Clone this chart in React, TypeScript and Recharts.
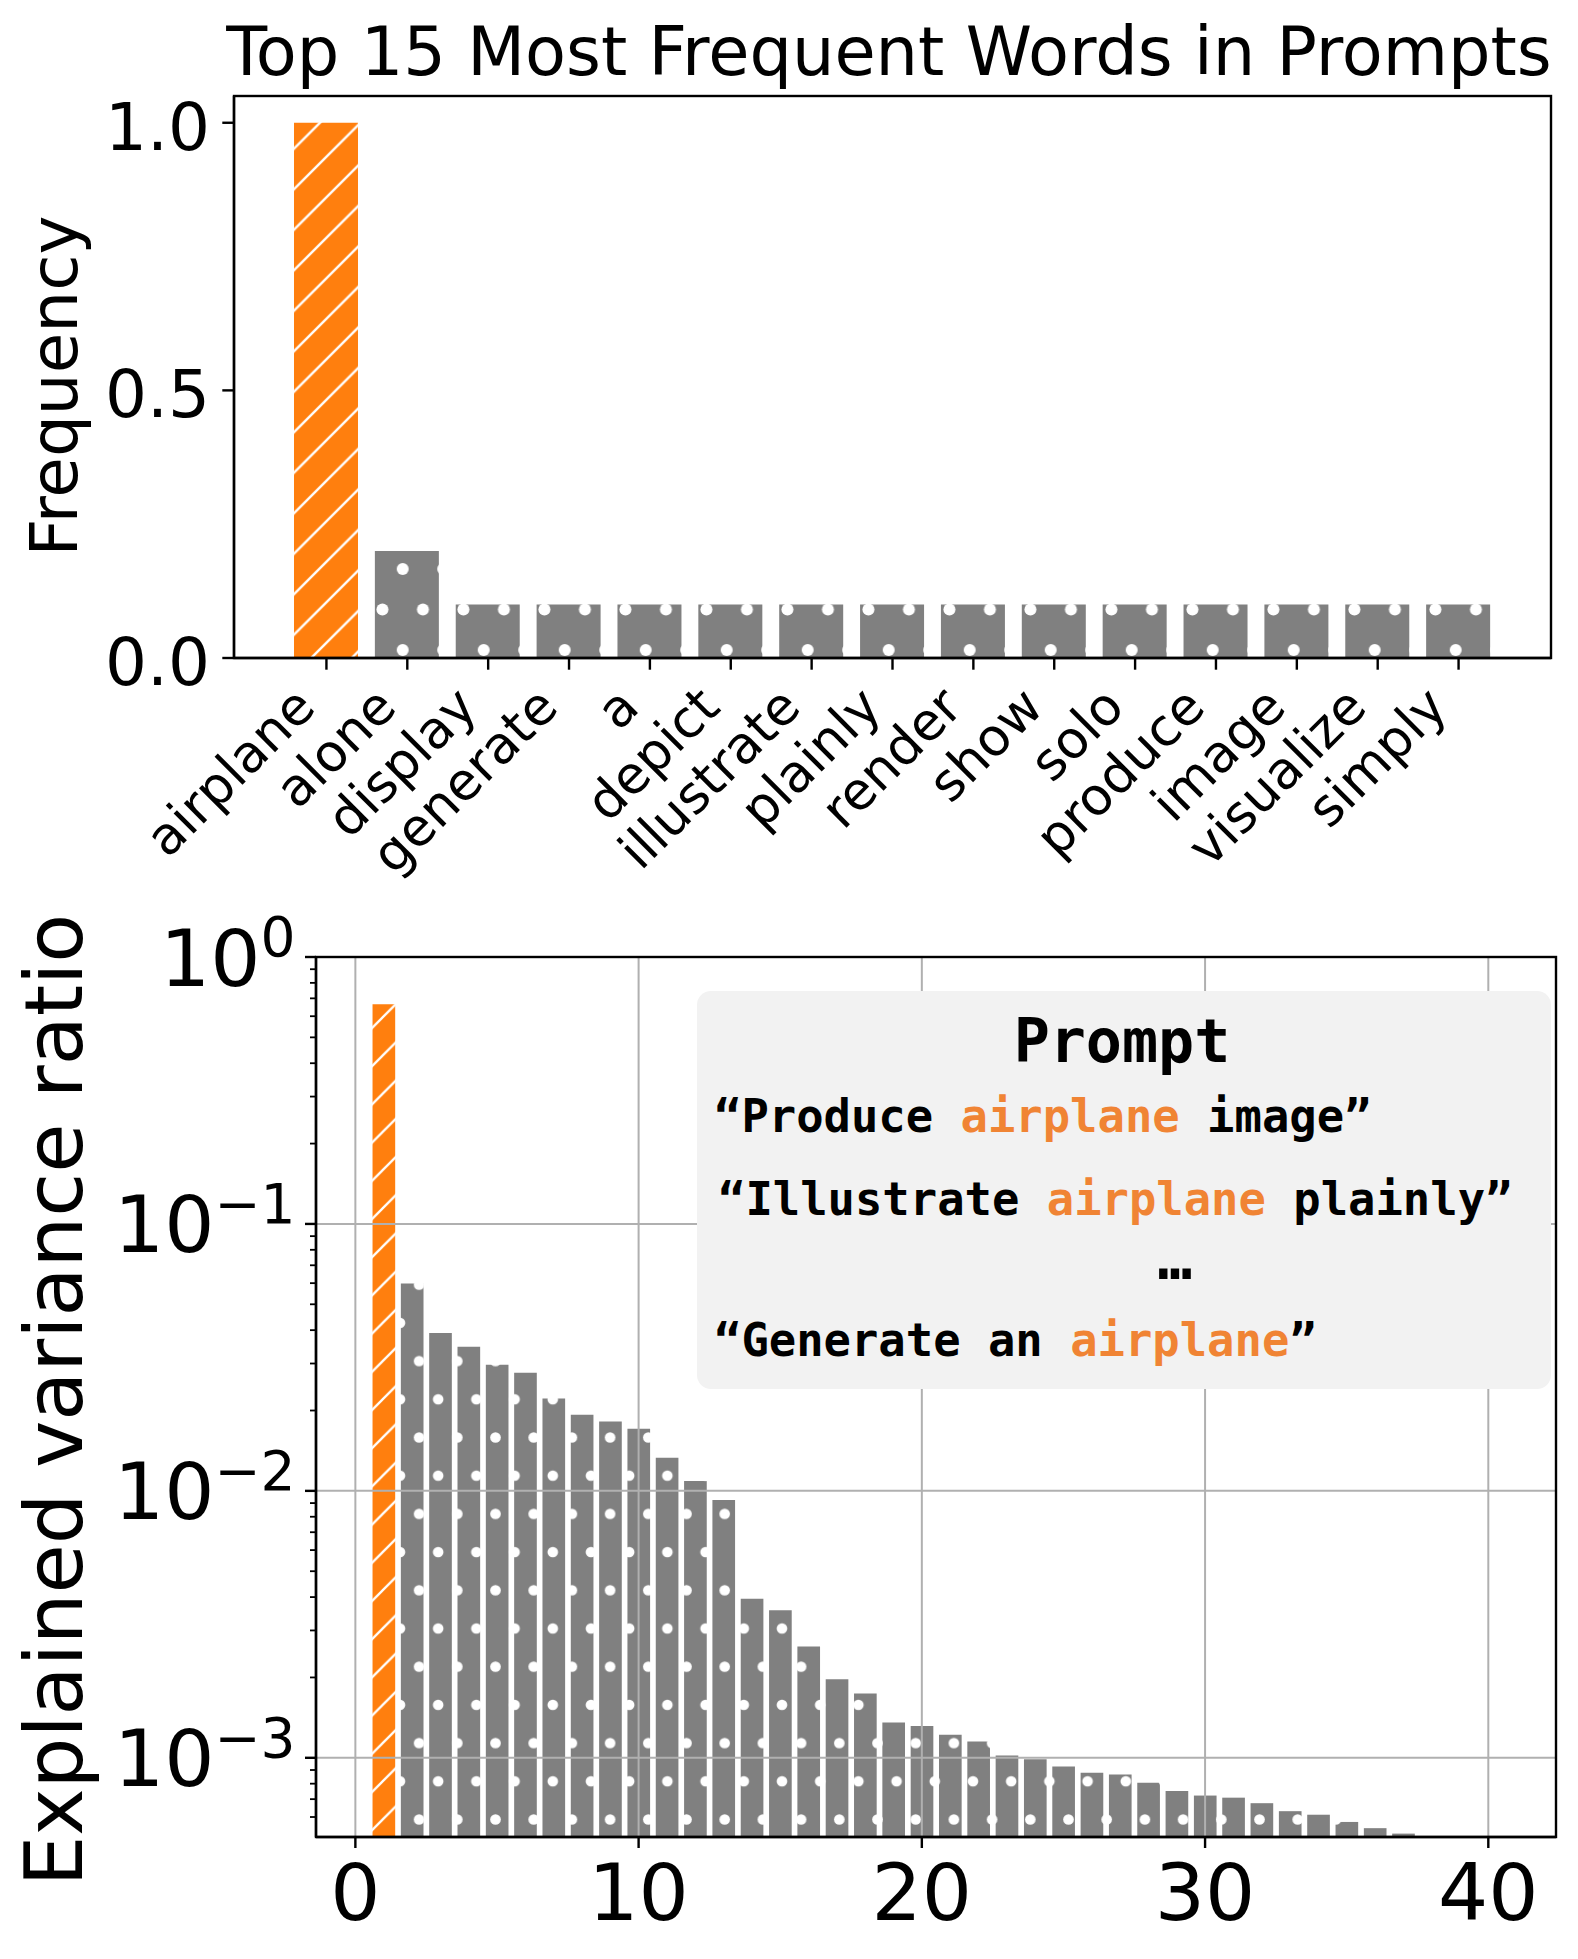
import React from "react";
import { BarChart, Bar, Cell, XAxis, YAxis, CartesianGrid } from "recharts";

// top panel: normalised word frequencies
const words = [
  "airplane", "alone", "display", "generate", "a", "depict", "illustrate",
  "plainly", "render", "show", "solo", "produce", "image", "visualize", "simply",
];
const freqs = [1.0, 0.2, 0.1, 0.1, 0.1, 0.1, 0.1, 0.1, 0.1, 0.1, 0.1, 0.1, 0.1, 0.1, 0.1];
const freqTicks = [0, 0.5, 1.0];

// bottom panel: explained variance ratio per component
const components = [
  1, 2, 3, 4, 5, 6, 7, 8, 9, 10, 11, 12, 13, 14, 15, 16, 17, 18, 19,
  20, 21, 22, 23, 24, 25, 26, 27, 28, 29, 30, 31, 32, 33, 34, 35, 36, 37,
];
const ratios = [
  0.665, 0.0598, 0.039, 0.0347, 0.0297, 0.0277, 0.0222, 0.0193, 0.0182, 0.0171,
  0.0133, 0.0109, 0.00924, 0.00394, 0.00357, 0.00261, 0.00197, 0.00174, 0.001355,
  0.001315, 0.00122, 0.00115, 0.00102, 0.000988, 0.000927, 0.000879, 0.000865,
  0.000806, 0.000751, 0.000722, 0.000709, 0.000676, 0.000631, 0.000612, 0.000575,
  0.000545, 0.00052,
];
const pcTicks = [0, 10, 20, 30, 40];
const majorTicks = [1, 0.1, 0.01, 0.001];
const minorTicks = [
  0.9, 0.8, 0.7, 0.6, 0.5, 0.4, 0.3, 0.2,
  0.09, 0.08, 0.07, 0.06, 0.05, 0.04, 0.03, 0.02,
  0.009, 0.008, 0.007, 0.006, 0.005, 0.004, 0.003, 0.002,
  0.0009, 0.0008, 0.0007, 0.0006,
];
const exponents: Record<string, string> = { "1": "0", "0.1": "−1", "0.01": "−2", "0.001": "−3" };

const freqData = words.map((w, i) => ({ word: w, freq: freqs[i] }));
const pcaData = components.map((c, i) => ({ pc: c, ratio: ratios[i] }));

const ORANGE = "#ff7f0e";
const GRAY = "#808080";
const TEXT_ORANGE = "#f08434";
const FONT = "DejaVu Sans";
const MONO = "DejaVu Sans Mono";
const SPINE = 2.4;

const TOP_AXIS_X = 234;
const TOP_AXIS_Y = 658;
const BOT_AXIS_X = 316;
const BOT_AXIS_Y = 937;

function Patterns() {
  const t = 40.5;
  const b = 38.2;
  return (
    <svg width={0} height={0} style={{ position: "absolute" }}>
      <defs>
        <pattern id="topDots" patternUnits="userSpaceOnUse" x={402.7} y={569} width={t} height={t * 2}>
          <rect width={t} height={t * 2} fill={GRAY} />
          {[[0, 0], [t, 0], [0, 2 * t], [t, 2 * t], [t / 2, t]].map(([cx, cy], i) => (
            <circle key={i} cx={cx} cy={cy} r={6} fill="#fff" />
          ))}
        </pattern>
        <pattern id="topHatch" patternUnits="userSpaceOnUse" x={0} y={37.7} width={t} height={t}>
          <rect width={t} height={t} fill={ORANGE} />
          <path
            d={`M0,${t} L${t},0 M-10,10 L10,-10 M${t - 10},${t + 10} L${t + 10},${t - 10}`}
            stroke="#fff"
            strokeWidth={2.4}
          />
        </pattern>
        <pattern id="botDots" patternUnits="userSpaceOnUse" x={400} y={575.7} width={b} height={b * 2}>
          <rect width={b} height={b * 2} fill={GRAY} />
          {[[0, 0], [b, 0], [0, 2 * b], [b, 2 * b], [b / 2, b]].map(([cx, cy], i) => (
            <circle key={i} cx={cx} cy={cy} r={5.3} fill="#fff" />
          ))}
        </pattern>
        <pattern id="botHatch" patternUnits="userSpaceOnUse" x={0} y={3.4} width={b} height={b}>
          <rect width={b} height={b} fill={ORANGE} />
          <path
            d={`M0,${b} L${b},0 M-10,10 L10,-10 M${b - 10},${b + 10} L${b + 10},${b - 10}`}
            stroke="#fff"
            strokeWidth={2.3}
          />
        </pattern>
      </defs>
    </svg>
  );
}

function WordTick({ x, payload }: any) {
  const bx = x - 8.7;
  const by = 709.6;
  return (
    <g>
      <line x1={x} x2={x} y1={TOP_AXIS_Y} y2={TOP_AXIS_Y + 11.7} stroke="#000" strokeWidth={SPINE} />
      <text
        x={bx}
        y={by}
        transform={`rotate(-45, ${bx}, ${by})`}
        textAnchor="end"
        fontFamily={FONT}
        fontSize={52}
        fill="#000"
      >
        {payload.value}
      </text>
    </g>
  );
}

function FreqTick({ y, payload }: any) {
  return (
    <g>
      <line x1={TOP_AXIS_X - 11.7} x2={TOP_AXIS_X} y1={y} y2={y} stroke="#000" strokeWidth={SPINE} />
      <text x={210} y={y + 27} textAnchor="end" fontFamily={FONT} fontSize={66} fill="#000">
        {Number(payload.value).toFixed(1)}
      </text>
    </g>
  );
}

function PcTick({ x, payload }: any) {
  return (
    <g>
      <line x1={x} x2={x} y1={BOT_AXIS_Y} y2={BOT_AXIS_Y + 11} stroke="#000" strokeWidth={SPINE} />
      <text x={x} y={BOT_AXIS_Y + 83} textAnchor="middle" fontFamily={FONT} fontSize={79} fill="#000">
        {payload.value}
      </text>
    </g>
  );
}

function LogTick({ y, payload }: any) {
  const exp = exponents[String(payload.value)];
  if (exp === undefined) {
    return <line x1={BOT_AXIS_X - 6} x2={BOT_AXIS_X} y1={y} y2={y} stroke="#000" strokeWidth={1.8} />;
  }
  return (
    <g>
      <line x1={BOT_AXIS_X - 11} x2={BOT_AXIS_X} y1={y} y2={y} stroke="#000" strokeWidth={SPINE} />
      <text x={295.5} y={y + 28.5} textAnchor="end" fontFamily={FONT} fontSize={79} fill="#000">
        10
        <tspan fontSize={55} dy={-29.3}>
          {exp}
        </tspan>
      </text>
    </g>
  );
}

function FrequencyChart() {
  return (
    <BarChart width={1578} height={900} data={freqData} margin={{ top: 96, right: 27, left: 0, bottom: 0 }}>
      <Bar dataKey="freq" barSize={64} isAnimationActive={false}>
        {freqData.map((d, i) => (
          <Cell key={d.word} fill={i === 0 ? "url(#topHatch)" : "url(#topDots)"} />
        ))}
      </Bar>
      <XAxis
        dataKey="word"
        height={242}
        padding={{ left: 52, right: 52 }}
        interval={0}
        tickLine={false}
        tick={<WordTick />}
        axisLine={{ stroke: "#000", strokeWidth: SPINE }}
      />
      <YAxis
        width={TOP_AXIS_X}
        domain={[0, 1.05]}
        ticks={freqTicks}
        interval={0}
        allowDataOverflow
        tickLine={false}
        tick={<FreqTick />}
        axisLine={{ stroke: "#000", strokeWidth: SPINE }}
      />
    </BarChart>
  );
}

function VarianceChart() {
  return (
    <BarChart width={1578} height={1059} data={pcaData} margin={{ top: 57, right: 22, left: 0, bottom: 0 }}>
      <Bar dataKey="ratio" barSize={22.66} isAnimationActive={false}>
        {pcaData.map((d, i) => (
          <Cell key={d.pc} fill={i === 0 ? "url(#botHatch)" : "url(#botDots)"} />
        ))}
      </Bar>
      <CartesianGrid
        horizontalValues={[0.1, 0.01, 0.001]}
        verticalValues={pcTicks}
        stroke="#b0b0b0"
        strokeWidth={2}
        zIndex={350}
      />
      <XAxis
        dataKey="pc"
        type="number"
        domain={[-1.39, 42.39]}
        allowDataOverflow
        ticks={pcTicks}
        interval={0}
        height={122}
        tickLine={false}
        tick={<PcTick />}
        axisLine={{ stroke: "#000", strokeWidth: SPINE }}
      />
      <YAxis
        scale="log"
        type="number"
        domain={[0.000505, 1]}
        allowDataOverflow
        ticks={[...majorTicks, ...minorTicks]}
        interval={0}
        width={BOT_AXIS_X}
        tickLine={false}
        tick={<LogTick />}
        axisLine={{ stroke: "#000", strokeWidth: SPINE }}
      />
    </BarChart>
  );
}

function Overlay() {
  const mono = { fontFamily: MONO, fontWeight: 700, fontSize: 45.5, fill: "#000" } as const;
  return (
    <svg width={1578} height={1959} style={{ position: "absolute", left: 0, top: 0, pointerEvents: "none" }}>
      {/* full axes frames (top / right spines) */}
      <rect x={TOP_AXIS_X} y={96} width={1551 - TOP_AXIS_X} height={TOP_AXIS_Y - 96} fill="none" stroke="#000" strokeWidth={SPINE} />
      <rect x={BOT_AXIS_X} y={957} width={1556 - BOT_AXIS_X} height={900 + BOT_AXIS_Y - 957} fill="none" stroke="#000" strokeWidth={SPINE} />

      <text x={889} y={75} textAnchor="middle" fontFamily={FONT} fontSize={67}>
        Top 15 Most Frequent Words in Prompts
      </text>
      <text x={77} y={386} transform="rotate(-90, 77, 386)" textAnchor="middle" fontFamily={FONT} fontSize={66}>
        Frequency
      </text>
      <text x={82} y={1400} transform="rotate(-90, 82, 1400)" textAnchor="middle" fontFamily={FONT} fontSize={80}>
        Explained variance ratio
      </text>

      <rect x={697} y={991} width={854} height={398} rx={14} fill="#f2f2f2" />
      <text x={1122} y={1062} textAnchor="middle" fontFamily={MONO} fontWeight={700} fontSize={60}>
        Prompt
      </text>
      <text x={714} y={1132} {...mono}>
        {"“Produce "}
        <tspan fill={TEXT_ORANGE}>airplane</tspan>
        {" image”"}
      </text>
      <text x={718} y={1215} {...mono}>
        {"“Illustrate "}
        <tspan fill={TEXT_ORANGE}>airplane</tspan>
        {" plainly”"}
      </text>
      <text x={1175} y={1279} textAnchor="middle" {...mono} fontSize={58}>
        …
      </text>
      <text x={714} y={1356} {...mono}>
        {"“Generate an "}
        <tspan fill={TEXT_ORANGE}>airplane</tspan>
        {"”"}
      </text>
    </svg>
  );
}

export default function App() {
  return (
    <div style={{ position: "absolute", left: 0, top: 0, width: 1578, height: 1959, background: "#fff" }}>
      <Patterns />
      <div style={{ position: "absolute", left: 0, top: 0 }}>
        <FrequencyChart />
      </div>
      <div style={{ position: "absolute", left: 0, top: 900 }}>
        <VarianceChart />
      </div>
      <Overlay />
    </div>
  );
}
